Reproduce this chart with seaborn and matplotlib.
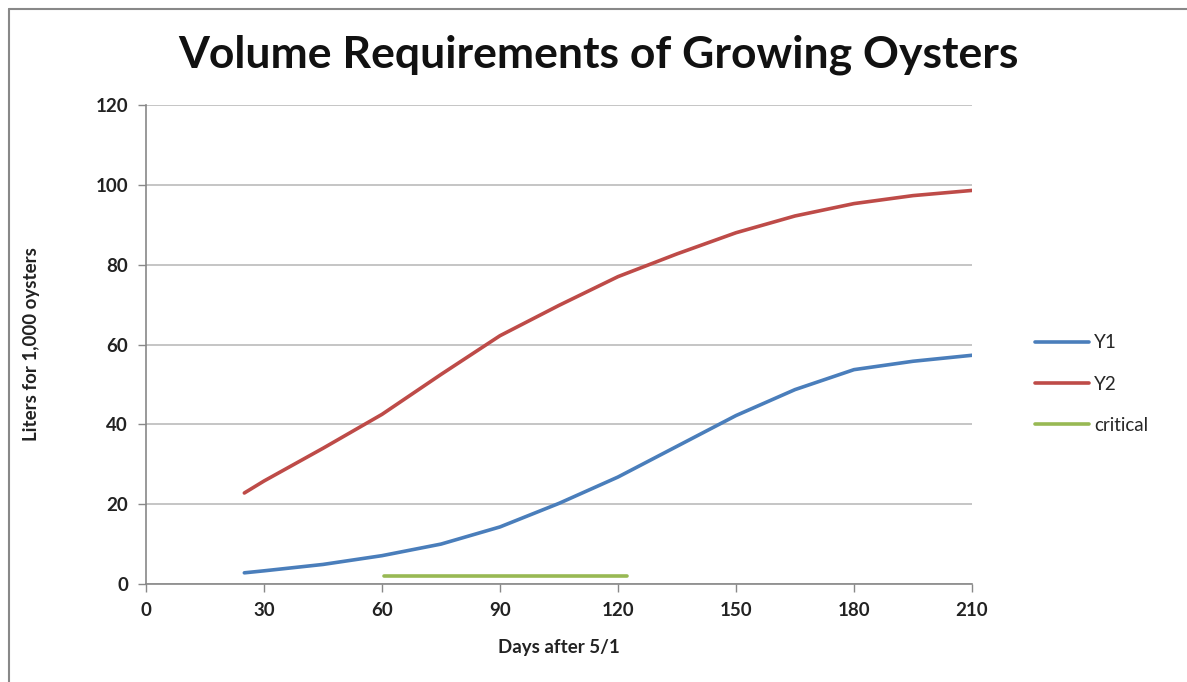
import pandas as pd
import matplotlib.pyplot as plt
import seaborn as sns
from matplotlib.lines import Line2D

# === Data ===
days = [25, 30, 45, 60, 75, 90, 105, 120, 135, 150, 165, 180, 195, 210]
y1 = [2.8, 3.3, 4.9, 7.1, 10.0, 14.3, 20.2, 26.8, 34.5, 42.2, 48.7, 53.7, 55.8, 57.3]
y2 = [22.8, 25.8, 34.0, 42.5, 52.5, 62.2, 69.8, 77.0, 82.7, 88.0, 92.2, 95.3, 97.3, 98.6]
crit_days = [60.5, 122.3]
crit_vals = [2.0, 2.0]

x_ticks = [0, 30, 60, 90, 120, 150, 180, 210]
y_ticks = [0, 20, 40, 60, 80, 100, 120]

series_names = ["Y1", "Y2", "critical"]
series_colors = ["#4A7EBB", "#BE4B48", "#98B954"]

# === Build long-form table ===
df = pd.concat([
    pd.DataFrame({"day": days, "value": y1, "series": "Y1"}),
    pd.DataFrame({"day": days, "value": y2, "series": "Y2"}),
    pd.DataFrame({"day": crit_days, "value": crit_vals, "series": "critical"}),
], ignore_index=True)

# === Plot ===
sns.set_style("white")
plt.rcParams['font.family'] = ['Lato', 'DejaVu Sans']

fig = plt.figure(figsize=(11.87, 6.82), dpi=100)
ax = fig.add_axes([146 / 1187, 1 - 584 / 682, (972 - 146) / 1187, (584 - 105) / 682])

sns.lineplot(data=df, x="day", y="value", hue="series", hue_order=series_names,
             palette=dict(zip(series_names, series_colors)), linewidth=2.6,
             estimator=None, sort=False, ax=ax, legend=False)

ax.set_xlim(0, 210)
ax.set_ylim(0, 120)
ax.set_xticks(x_ticks)
ax.set_yticks(y_ticks)
ax.set_xticklabels([str(t) for t in x_ticks], fontsize=13.5, fontweight="bold", color="#222222")
ax.set_yticklabels([str(t) for t in y_ticks], fontsize=13.5, fontweight="bold", color="#222222")
ax.tick_params(axis="both", direction="out", length=6, width=1, color="#888888", pad=7,
               bottom=True, left=True)
ax.yaxis.grid(True, color="#BBBBBB", linewidth=1.2)
ax.set_axisbelow(True)
for side in ["top", "right"]:
    ax.spines[side].set_visible(False)
for side in ["left", "bottom"]:
    ax.spines[side].set_color("#888888")
    ax.spines[side].set_linewidth(1.2)

ax.set_xlabel("Days after 5/1", fontsize=13.5, fontweight="bold", color="#222222", labelpad=14)
ax.set_ylabel("Liters for 1,000 oysters", fontsize=13.5, fontweight="bold", color="#222222", labelpad=40)

fig.suptitle("Volume Requirements of Growing Oysters", x=598 / 1187, y=1 - 55 / 682,
             va="center", fontsize=32, fontweight="bold", color="#111111")

handles = [Line2D([0], [0], color=c, linewidth=2.6) for c in series_colors]
fig.legend(handles, series_names, loc="center left", bbox_to_anchor=(1018 / 1187, 1 - 384 / 682),
           frameon=False, fontsize=13.5, handlelength=2.9, handletextpad=0.25, labelspacing=1.3)

# chart border (left and top edges visible in the screenshot)
fig.add_artist(Line2D([9 / 1187, 9 / 1187], [0, 1 - 9 / 682], color="#888888", linewidth=1.5))
fig.add_artist(Line2D([9 / 1187, 1], [1 - 9 / 682, 1 - 9 / 682], color="#888888", linewidth=1.5))

fig.savefig("out.png", dpi=100)
plt.close(fig)
